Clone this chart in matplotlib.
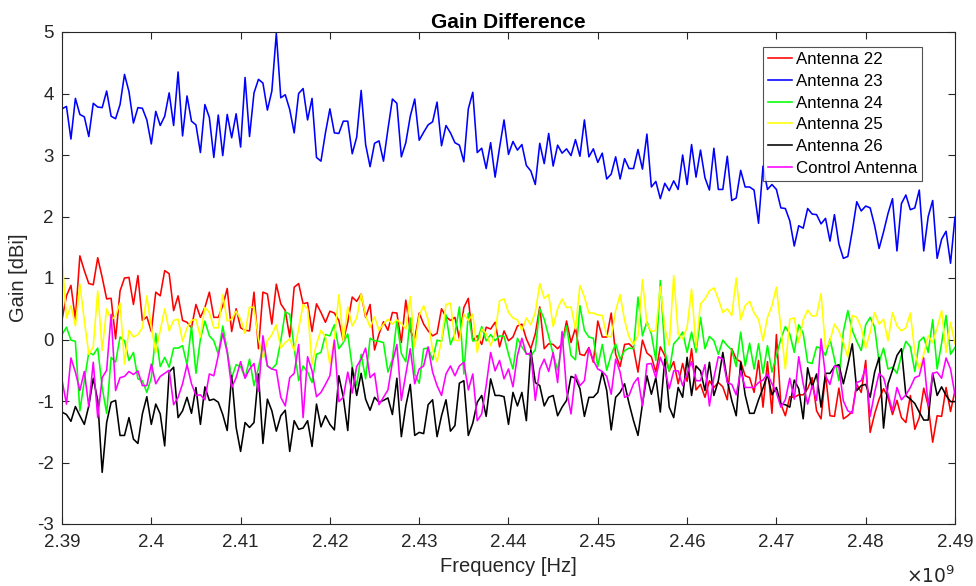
import numpy as np
import matplotlib
matplotlib.use("Agg")
import matplotlib.pyplot as plt
from matplotlib.ticker import FuncFormatter

# ---- data (gain in dBi, sweep 2.39 GHz .. 2.49 GHz, 201 points) ----
f_start = 2.39e9
f_stop = 2.49e9

antenna22 = [
    0.32, 0.71, 0.88, 0.33, 1.36, 1.12, 0.91, 0.89, 1.33, 1.01,
    0.66, 0.67, 0.01, 0.79, 1.00, 1.01, 0.57, 1.04, 0.31, 0.37,
    0.13, 0.77, 0.71, 1.12, 1.07, 0.47, 0.71, 0.31, 0.28, 0.19,
    0.57, 0.36, 0.52, 0.77,
    0.36, 0.36, 0.55, 0.83, 0.13, 0.50, 0.19, 0.15, 0.14, 0.77,
    -0.15, 0.77, 0.74, 0.25, 0.90, 0.58, 0.47, 0.04, 0.85, 0.91,
    0.58, 0.60, 0.13, 0.58, 0.44, 0.28, 0.46, 0.43, 0.31, -0.02,
    0.28, 0.69, 0.62,
    0.74,
    0.36, 0.57, -0.17, 0.09, 0.29, 0.15, 0.44, 0.43, -0.05, 0.64,
    0.14, 0.01, 0.43, 0.25, 0.14, 0.06, 0.10, 0.50, 0.37, 0.31,
    0.36, 0.01, 0.52, 0.67, -0.02, 0.06, -0.08, 0.20, 0.17, 0.28,
    -0.12, 0.14, -0.02,
    0.04, 0.22, 0.25, 0.01, -0.15, 0.09, 0.53, -0.15, -0.07, -0.08,
    -0.15, -0.07, 0.30, -0.05, 0.19, -0.24, -0.26, -0.13, -0.37, 0.30,
    0.04, 0.04, 0.43, -0.24, -0.44, -0.08, -0.07, -0.14, -0.53, -0.01,
    -0.22, -0.28, -0.53, -0.12,
    -0.26, -0.51, -0.36, -0.72, -0.39, -0.68, -0.15, -0.82, -0.73, -0.94,
    -0.67, -0.78, -0.70, -0.77, -0.98, -0.15, -0.32, -0.36, -0.59, -0.62,
    -0.86, -0.34, -1.10, -0.36, -1.20, 0.08, -1.05, -1.24, -0.93, -0.94,
    -0.90, -0.90, -0.80,
    -0.62, -1.16, -1.29, -0.56, -1.24, -1.25, -0.79, -1.29, -1.24, -1.17,
    -0.73, -0.86, -0.34, -1.51, -1.21, -0.97, -0.80, -0.94, -1.22, -0.99,
    -1.27, -1.35, -0.91, -1.46, -1.27, -0.79, -1.08, -1.67, -1.24, -1.25,
    -0.78, -1.17, -0.83,
]

antenna23 = [
    3.75, 3.79, 3.26, 3.92, 3.66, 3.62, 3.30, 3.84, 3.78, 3.77,
    4.04, 3.63, 3.59, 3.82, 4.31, 4.03, 3.52, 3.77, 3.76, 3.57,
    3.18, 3.71, 3.48, 3.63, 4.01, 3.48, 4.35, 3.31, 3.96, 3.55,
    3.49, 3.04, 3.82, 3.61, 2.96, 3.65, 2.99, 3.66, 3.28, 3.67,
    3.13, 4.26, 3.30, 4.01, 4.23, 4.17, 3.73, 4.04, 4.98, 3.93,
    3.98, 3.74, 3.36, 4.00, 4.08, 3.57, 3.92, 2.96, 2.90, 3.36,
    3.75, 3.36, 3.35, 3.55, 3.55, 3.02, 3.29, 4.05,
    3.17, 2.81, 3.19, 3.23, 2.90, 3.42, 3.91, 3.84, 2.97, 3.20,
    3.63, 3.91, 3.24, 3.37, 3.49, 3.54, 3.86, 3.15, 3.48, 3.36,
    3.20, 3.16, 2.89, 3.75, 4.02, 3.04, 3.11, 2.78, 3.20, 2.64,
    3.12, 3.57, 3.01, 3.22, 3.08, 3.17, 2.83, 2.74, 2.52, 3.19,
    2.86, 3.35, 2.82, 3.16, 3.03, 3.10, 2.99, 3.25, 2.98, 3.57,
    2.97, 3.10, 2.88, 3.03, 2.61, 2.69, 2.97, 2.61, 2.94, 2.78,
    2.78, 3.09, 2.77, 3.34, 2.48, 2.57, 2.29,
    2.54, 2.42, 2.58, 2.44, 3.00, 2.52, 3.17, 2.64, 3.08, 2.63,
    2.43, 3.11, 2.44, 2.44, 2.98, 2.26, 2.30, 2.75, 2.48, 2.48,
    2.43, 1.89, 2.82, 2.44, 2.52, 2.44, 2.14, 2.13, 1.93, 1.52,
    1.85, 1.81, 2.13, 2.04, 2.03, 1.88, 1.97, 1.60, 2.03, 1.55,
    1.32, 1.35, 1.77, 2.24, 2.09, 2.17, 2.14, 1.85, 1.48, 1.75,
    2.05, 2.29, 1.44, 2.21, 2.35, 2.11, 2.14, 2.43, 1.44, 2.00,
    2.26, 1.32, 1.63, 1.76, 1.24, 1.99,
]

antenna24 = [
    0.08, 0.20, -0.01, -0.03, -1.16, -0.67, -0.21, -0.25, -0.14, -0.78,
    -1.20, -0.29, -0.37, 0.04, -0.02, -0.34, -0.21, -0.64, -0.67, -0.86,
    -0.62, 0.10, -0.44, -0.29, -0.45, -0.14, -0.14, -0.10, -0.41, 0.22,
    -0.55, 0.01, 0.30, 0.06,
    -0.02, -0.24, 0.22, -0.18, -0.62, -0.41, -0.44, -0.62, -0.32, -0.75,
    -0.46, -0.10, -0.43, -0.48, -0.40, -0.02, 0.45, 0.41, -0.13, -0.67,
    -0.43, -0.53, -0.70, -0.24, -0.21, 0.08, 0.06, 0.24, -0.15, -0.05,
    0.09, -0.45, -0.75,
    -0.24,
    -0.64, 0.02, -0.02, -0.03, -0.05, -0.53, -0.32, 0.31, -0.23, -0.36,
    0.35, -0.56, -0.71, -0.15, -0.14, -0.33, -0.01, -0.03, 0.40, -0.08,
    0.09, 0.53, -0.56, 0.43, -0.02, -0.02, 0.21, -0.02, 0.08, -0.02,
    0.06, 0.05, -0.24,
    -0.48, 0.02, -0.12, -0.23, -0.26, -0.17, 0.50, 0.33, 0.05, -0.24,
    -0.50, -0.08, 0.22, -0.26, -0.33, 0.55, 0.15, 0.04, 0.02, -0.44,
    -0.08, -0.50, -0.25, -0.07, -0.32, -0.18, -0.14, -0.15, 0.69, 0.06,
    0.29, 0.09, -0.34, 0.96,
    -0.18, -0.52, -0.07, 0.01, 0.12, -0.21, 0.12, -0.21, 0.36, -0.15,
    0.05, -0.02, -0.24, -0.01, -0.10, -0.17, -0.44, 0.12, -0.43, -0.06,
    -0.48, -0.07, -0.55, -0.10, -0.53, -0.26, 0.01, 0.21, 0.09, -0.21,
    0.24, 0.10, -0.37,
    -0.39, -0.12, -0.14, -0.26, 0.01, -0.32, -0.67, 0.13, 0.47, 0.15,
    -0.03, -0.18, 0.24, 0.36, 0.20, -0.37, -0.14, -0.48, -0.45, -0.55,
    -0.26, -0.03, -0.12, -0.52, -0.03, 0.04, -0.21, 0.32, -0.48, -0.06,
    0.39, -0.24, -0.13,
]

antenna25 = [
    1.34, 0.35, 0.55, 0.22, 0.90, 0.31, -0.24, -0.12, 0.79, -0.18,
    0.50, 0.31, 0.39, 0.59, -0.40, 0.15, 0.04, 0.08, 0.19, 0.71,
    0.20, -0.21, 0.15, 0.50, 0.14, 0.31, 0.33, -0.03, 0.19, 0.31,
    0.33, 0.04, 0.52, 0.44,
    0.19, 0.19, 0.73, 0.30, 0.33, 0.46, 0.33, 0.10, 0.53, 0.52,
    0.01, -0.29, -0.02, 0.08, 0.24, -0.14, -0.05, 0.01, -0.18, 0.17,
    0.57, 0.50, -0.40, -0.07, 0.15, 0.04, -0.40, 0.01, 0.73, -0.02,
    0.53, 0.22, 0.35,
    0.74,
    0.39, 0.20, 0.37, 0.15, 0.25, 0.33, 0.25, 0.32, 0.26, 0.17,
    0.70, -0.12, 0.39, 0.55, 0.32, -0.17, -0.36, -0.02, 0.57, 0.59,
    -0.01, -0.02, 0.41, 0.31, 0.41, -0.21, 0.17, 0.10, -0.10, 0.10,
    0.63, 0.66, 0.44,
    0.35, 0.32, 0.15, 0.35, 0.24, 0.44, 0.91, 0.67, 0.73, 0.21,
    0.50, 0.66, 0.52, 0.53, 0.17, 0.88, 0.69, 0.43, 0.43, 0.40,
    0.39, 0.06, 0.04, 0.47, 0.73, 0.31, 0.04, -0.08, 0.06, 0.97,
    0.26, 0.13, 0.15, 0.86,
    0.19, -0.10, 1.04, 0.09, 0.01, 0.20, 0.82, -0.13, 0.58, 0.66,
    0.79, 0.84, 0.66, 0.44, 0.50, 0.39, 1.00, 0.32, 0.55, 0.62,
    0.43, 0.33, -0.02, 0.36, 0.55, 0.85, 0.19, -0.48, 0.33, 0.35,
    -0.05, 0.32, 0.48,
    0.38, 0.39, 0.75, -0.15, -0.02, 0.25, 0.14, -0.05, -0.29, 0.39,
    0.36, 0.19, -0.14, 0.12, 0.44, 0.25, 0.33, -0.02, 0.44, 0.22,
    0.14, 0.19, 0.43, -0.21, -0.48, -0.24, 0.06, -0.05, 0.19, 0.47,
    -0.21, 0.28, -0.07,
]

antenna26 = [
    -1.18, -1.22, -1.33, -1.09, -1.24, -1.38, -1.08, -0.63, -0.99, -2.16,
    -1.35, -1.02, -0.99, -1.56, -1.56, -1.27, -1.62, -1.69, -1.21, -0.93,
    -1.38, -1.05, -1.21, -1.73, -0.53, -0.45, -1.27, -1.16, -0.94, -1.20,
    -0.78, -1.38, -0.77, -0.99,
    -0.97, -1.02, -1.22, -1.48, -0.59, -1.43, -1.82, -1.35, -1.43, -1.35,
    -0.56, -1.69, -0.97, -1.16, -1.49, -1.24, -1.15, -1.82, -1.32, -1.46,
    -1.44, -1.32, -1.74, -1.05, -1.42, -1.24, -1.38, -1.47, -0.59, -0.94,
    -1.48, -0.46, -0.91,
    -0.55,
    -0.97, -1.15, -0.94, -1.02, -0.99, -0.95, -1.22, -0.63, -1.58, -1.08,
    -0.73, -1.56, -1.51, -1.53, -1.06, -0.98, -1.58, -1.24, -0.98, -1.49,
    -1.40, -0.71, -0.67, -1.56, -1.36, -1.02, -0.91, -1.25, -0.64, -0.91,
    -0.91, -0.93, -1.38,
    -0.86, -1.08, -0.86, -1.32, -0.17, -0.70, -0.75, -1.08, -0.94, -0.91,
    -1.24, -1.10, -0.99, -0.60, -0.63, -0.80, -1.25, -0.94, -0.94, -0.86,
    -0.53, -0.83, -1.47, -0.94, -0.86, -0.72, -1.04, -1.32, -1.56, -1.05,
    -0.59, -0.89, -0.62, -1.18,
    -0.32, -1.10, -1.27, -0.78, -0.94, -0.29, -0.91, -0.43, -0.51, -0.83,
    -0.37, -0.91, -0.67, -0.21, -0.67, -0.99, -1.24, -0.37, -0.90, -1.20,
    -1.20, -0.98, -0.79, -0.57, -0.90, -0.78, -1.05, -1.06, -1.10, -0.66,
    -0.80, -1.29, -0.46,
    -0.77, -0.56, -1.10, -0.55, -0.55, -0.44, -0.41, -0.72, -0.41, -0.07,
    -0.83, -0.75, -0.73, -0.94, -0.53, -0.29, -1.44, -0.72, -0.50, -0.26,
    -0.15, -0.91, -0.97, -1.04, -1.18, -1.31, -1.31, -0.55, -0.91, -0.77,
    -0.91, -1.01, -1.01,
]

control = [
    -0.66, -1.05, -0.30, -0.53, -0.83, -0.52, -1.09, -0.37, -1.27, -0.62,
    -0.50, 0.41, -0.83, -0.62, -0.60, -0.52, -0.57, -0.51, -0.75, -0.75,
    -0.40, -0.72, -0.60, -0.55, -0.50, -1.06, -0.94, -0.72, -0.41, -0.72,
    -0.91, -0.90, -0.98, -0.56,
    -0.59, -0.26, 0.10, -0.21, -0.78, -0.62, -0.36, -0.63, -0.48, -0.39,
    -0.84, 0.06, -0.43, -0.48, -0.50, -0.94, -1.08, -0.62, -0.55, -0.08,
    -1.27, -0.28, -0.51, -0.93, -0.86, -0.73, -0.59, -0.01, -1.01, -0.94,
    -0.53, -0.87, -0.44,
    -0.32,
    -0.14, -0.62, -0.55, -1.06, -0.94, -0.82, -0.37, -0.08, -0.99, -0.56,
    -0.15, -0.72, -0.48, -0.43, -0.12, -0.53, -0.75, -0.91, -0.56, -0.43,
    -0.59, -0.43, -0.37, -0.82, -0.56, -1.32, -1.21, -0.75, -0.21, -0.51,
    -0.34, -0.64, -0.48,
    -0.77, -0.26, 0.02, -0.24, -0.22, -0.99, -0.48, -0.32, -0.52, -0.21,
    -0.70, 0.13, -0.83, -1.21, -0.57, -0.75, -0.67, -0.14, -0.34, -0.48,
    -0.52, -0.60, -0.89, -0.32, -0.53, -0.94, -0.91, -0.72, -0.62, -1.08,
    -0.40, -0.39, -0.62, -0.29,
    -0.48, -0.80, -0.51, -0.51, -0.75, -0.55, -0.36, -0.67, -0.67, -0.41,
    -1.08, -0.62, -0.28, -0.32, -0.70, -0.73, -0.90, -0.51, -0.78, -0.78,
    -0.78, -0.70, -0.66, -0.56, -0.72, -0.86, -1.10, -0.98, -0.63, -0.97,
    -0.28, -0.72, -1.05,
    -0.75, -0.99, 0.01, -0.59, -0.73, -0.43, -0.45, -1.00, -1.16, -1.20,
    -0.70, -0.67, -0.46, -1.25, -0.86, -0.55, -0.62, -0.89, -1.16, -0.78,
    -0.98, -0.90, -0.78, -0.62, -0.59, -0.30, -1.08, -0.55, -0.53, -0.63,
    -0.30, -0.48, -0.90,
]

series = [
    ("Antenna 22", antenna22, "#ff0000"),
    ("Antenna 23", antenna23, "#0000ff"),
    ("Antenna 24", antenna24, "#00ff00"),
    ("Antenna 25", antenna25, "#ffff00"),
    ("Antenna 26", antenna26, "#000000"),
    ("Control Antenna", control, "#ff00ff"),
]

xticks = [2.39, 2.40, 2.41, 2.42, 2.43, 2.44, 2.45, 2.46, 2.47, 2.48, 2.49]
yticks = [-3, -2, -1, 0, 1, 2, 3, 4, 5]

# ---- figure ----
plt.rcParams['font.family'] = ['Liberation Sans', 'DejaVu Sans']
plt.rcParams['axes.unicode_minus'] = False
axcol = '#262626'

fig = plt.figure(figsize=(9.76, 5.86), dpi=100)
ax = fig.add_axes([62 / 976, 62 / 586, (955 - 62) / 976, (524 - 32) / 586])

for name, vals, col in series:
    f = np.linspace(f_start, f_stop, len(vals))
    ax.plot(f, vals, color=col, lw=1.15, label=name)

ax.set_xlim(f_start, f_stop)
ax.set_ylim(-3, 5)
ax.set_xticks([t * 1e9 for t in xticks])
ax.xaxis.set_major_formatter(
    FuncFormatter(lambda v, p: ('%.2f' % (v / 1e9)).rstrip('0').rstrip('.')))
ax.set_yticks(yticks)
ax.yaxis.set_major_formatter(FuncFormatter(lambda v, p: '%d' % round(v)))

for s in ax.spines.values():
    s.set_color(axcol)
    s.set_linewidth(0.8)
ax.tick_params(direction='in', length=5, width=0.8, colors=axcol,
               labelsize=13.5, top=True, right=True)
ax.tick_params(axis='x', pad=7.5)
ax.tick_params(axis='y', pad=6)

ax.set_title("Gain Difference", fontsize=15, fontweight='bold', color='black', pad=3)
ax.set_xlabel("Frequency [Hz]", fontsize=14.5, color=axcol, labelpad=4)
ax.set_ylabel("Gain [dBi]", fontsize=14.5, color=axcol, labelpad=6)
ax.text(1.0, -0.085, r'$\times10^{9}$', transform=ax.transAxes, ha='right', va='top',
        fontsize=13.5, color=axcol)

leg = ax.legend(loc='upper right', fontsize=12.2, frameon=True,
                fancybox=False, handlelength=1.45, handletextpad=0.2,
                borderpad=0.3, labelspacing=0.4, borderaxespad=0)
leg.set_bbox_to_anchor((922 / 976, 1 - 47 / 586), transform=fig.transFigure)
leg.get_frame().set_edgecolor(axcol)
leg.get_frame().set_linewidth(0.8)
for t in leg.get_texts():
    t.set_color('black')

fig.savefig("out.png", dpi=100)
